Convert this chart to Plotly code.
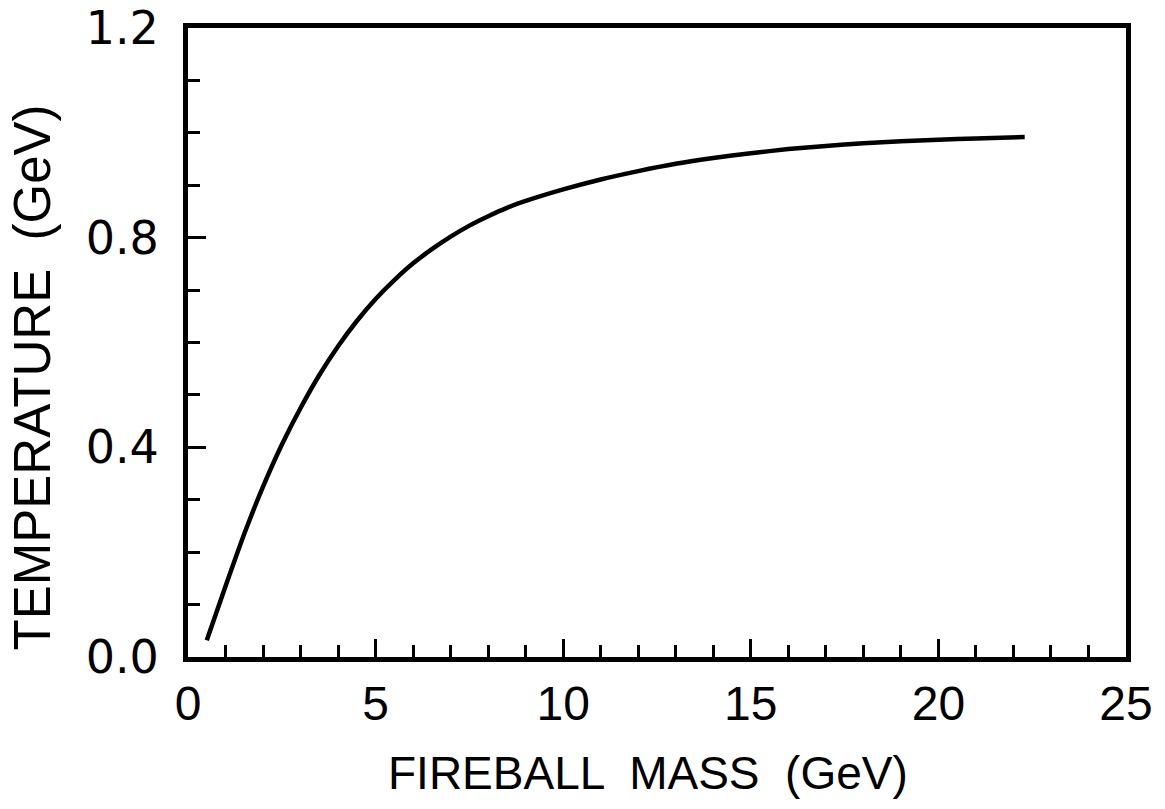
import plotly.graph_objects as go

# Data
mass_gev = [0.5, 1.0, 1.5, 2.0, 2.5, 3.0, 3.5, 4.0, 4.5, 5.0, 5.5, 6.0, 6.5, 7.0, 7.5, 8.0, 8.5, 9.0, 10.0,
            11.0, 12.0, 13.0, 14.0, 15.0, 16.0, 17.0, 18.0, 19.0, 20.0, 21.0, 22.3]
temperature_gev = [0.032, 0.135, 0.235, 0.325, 0.405, 0.475, 0.538, 0.593, 0.641, 0.683, 0.719, 0.751,
                   0.778, 0.802, 0.823, 0.841, 0.857, 0.870, 0.892, 0.911, 0.927, 0.941, 0.952, 0.961, 0.969,
                   0.975, 0.980, 0.984, 0.987, 0.989, 0.992]

x_ticks = [0, 5, 10, 15, 20, 25]
x_tick_labels = ["0", "5", "10", "15", "20", "25"]
y_ticks = [0.0, 0.4, 0.8, 1.2]
y_tick_labels = ["0.0", "0.4", "0.8", "1.2"]
x_title = "FIREBALL  MASS  (GeV)"
y_title = "TEMPERATURE  (GeV)"

fig = go.Figure()
fig.add_trace(go.Scatter(
    x=mass_gev, y=temperature_gev, mode="lines",
    line=dict(color="black", width=4.5, shape="spline", smoothing=0.6),
    showlegend=False, hoverinfo="skip",
))

fig.update_layout(
    width=1165, height=809,
    margin=dict(l=188, r=39, t=28, b=152),
    paper_bgcolor="white", plot_bgcolor="white",
    font=dict(family="Liberation Sans, Arial, sans-serif", color="black"),
)

fig.update_xaxes(
    range=[0, 25], showgrid=False, zeroline=False, automargin=False,
    showline=True, linecolor="black", linewidth=5, mirror=True,
    tickmode="array", tickvals=x_ticks, ticktext=x_tick_labels,
    ticks="inside", ticklen=18, tickwidth=3, tickcolor="black",
    minor=dict(dtick=1, ticks="inside", ticklen=12, tickwidth=3, tickcolor="black", showgrid=False),
    tickfont=dict(family="Liberation Sans, Arial, sans-serif", size=48, color="black"),
    ticklabelstandoff=0,
)

fig.update_yaxes(
    range=[0, 1.2], showgrid=False, zeroline=False, automargin=False,
    showline=True, linecolor="black", linewidth=5, mirror=True,
    tickmode="array", tickvals=y_ticks, ticktext=y_tick_labels,
    ticks="inside", ticklen=18, tickwidth=3, tickcolor="black",
    minor=dict(dtick=0.1, ticks="inside", ticklen=12, tickwidth=3, tickcolor="black", showgrid=False),
    tickfont=dict(family="DejaVu Sans, sans-serif", size=46, color="black"),
    ticklabelstandoff=15,
)

fig.add_annotation(
    text=x_title, xref="paper", yref="paper", x=0.49, y=-0.184,
    xanchor="center", yanchor="middle", showarrow=False,
    font=dict(family="Liberation Sans, Arial, sans-serif", size=46, color="black"),
)
fig.add_annotation(
    text=y_title, xref="paper", yref="paper", x=-0.166, y=0.445,
    xanchor="center", yanchor="middle", textangle=-90, showarrow=False,
    font=dict(family="Liberation Sans, Arial, sans-serif", size=51, color="black"),
)

fig.write_html("out.html")
